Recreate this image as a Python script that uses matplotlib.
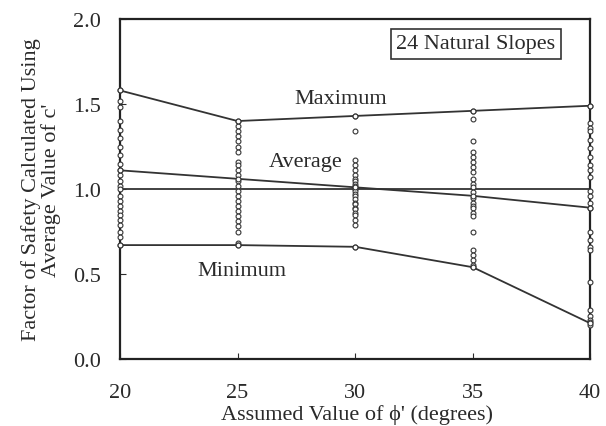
import matplotlib.pyplot as plt

# Valores
phi = [20, 25, 30, 35, 40]

maximo = [1.58, 1.40, 1.43, 1.46, 1.49]
promedio = [1.11, 1.06, 1.01, 0.96, 0.89]
minimo = [0.67, 0.67, 0.66, 0.54, 0.21]
referencia = [1.0, 1.0, 1.0, 1.0, 1.0]

fs_20 = [1.58, 1.52, 1.48, 1.40, 1.35, 1.30, 1.25, 1.20, 1.15, 1.11, 1.08, 1.05,
         1.02, 1.00, 0.96, 0.93, 0.90, 0.87, 0.85, 0.82, 0.79, 0.75, 0.72, 0.67]
fs_25 = [1.40, 1.37, 1.34, 1.31, 1.28, 1.25, 1.22, 1.16, 1.14, 1.11, 1.08, 1.05,
         1.02, 0.99, 0.96, 0.93, 0.90, 0.87, 0.84, 0.81, 0.78, 0.75, 0.68, 0.67]
fs_30 = [1.43, 1.34, 1.17, 1.14, 1.11, 1.08, 1.06, 1.05, 1.03, 1.02, 1.00, 0.99,
         0.97, 0.96, 0.94, 0.92, 0.91, 0.89, 0.88, 0.86, 0.85, 0.82, 0.79, 0.66]
fs_35 = [1.46, 1.41, 1.28, 1.22, 1.19, 1.16, 1.13, 1.10, 1.06, 1.03, 1.01, 0.98,
         0.95, 0.92, 0.90, 0.89, 0.86, 0.84, 0.75, 0.64, 0.61, 0.58, 0.55, 0.54]
fs_40 = [1.49, 1.39, 1.36, 1.34, 1.29, 1.24, 1.19, 1.14, 1.11, 1.07, 0.99, 0.96,
         0.92, 0.89, 0.75, 0.70, 0.66, 0.64, 0.45, 0.29, 0.25, 0.23, 0.22, 0.20]
columnas = [fs_20, fs_25, fs_30, fs_35, fs_40]

plt.rcParams['font.family'] = ['Liberation Serif', 'DejaVu Serif']

fig = plt.figure(figsize=(6.06, 4.27), dpi=100)
ax = fig.add_axes([0.198, 0.157, 0.776, 0.796])

color = '#333333'
txt = '#2a2a2a'
for x, valores in zip(phi, columnas):
    ax.plot([x] * len(valores), valores, 'o', ms=3.5, mfc='white', mec=color,
            mew=0.8, zorder=3, clip_on=False)

ax.plot(phi, referencia, '-', color=color, lw=1.3)
for serie in [maximo, promedio, minimo]:
    ax.plot(phi, serie, '-o', color=color, lw=1.3, ms=3.5, mfc='white',
            mew=0.8, clip_on=False, zorder=4)

ax.text(29.4, 1.53, 'Maximum', fontsize=16, ha='center', va='center', color=txt)
ax.text(27.9, 1.16, 'Average', fontsize=16, ha='center', va='center', color=txt)
ax.text(25.2, 0.52, 'Minimum', fontsize=16, ha='center', va='center', color=txt)
ax.text(31.75, 1.855, '24 Natural Slopes', fontsize=16, ha='left', va='center',
        color=txt,
        bbox=dict(boxstyle='square,pad=0.25', fc='white', ec='#333333', lw=1.2))

ax.set_xlim(20, 40)
ax.set_ylim(0, 2.0)
ax.set_xticks(phi)
ax.set_yticks([0.0, 0.5, 1.0, 1.5, 2.0])
ax.set_yticklabels(['0.0', '0.5', '1.0', '1.5', '2.0'])
ax.tick_params(axis='x', direction='in', length=4, pad=17, labelsize=16, colors=txt)
ax.tick_params(axis='y', direction='in', length=4, pad=14, labelsize=16, colors=txt)

for s in ax.spines.values():
    s.set_linewidth(1.6)
    s.set_color('#222222')

ax.set_xlabel("Assumed Value of \u03d5' (degrees)", fontsize=16, color=txt, va='center')
ax.xaxis.set_label_coords(0.504, -0.162)
ax.set_ylabel("Factor of Safety Calculated Using\nAverage Value of c'", fontsize=16,
              color=txt, linespacing=1.0, va='center')
ax.yaxis.set_label_coords(-0.168, 0.5)

fig.savefig('out.png', dpi=100)
